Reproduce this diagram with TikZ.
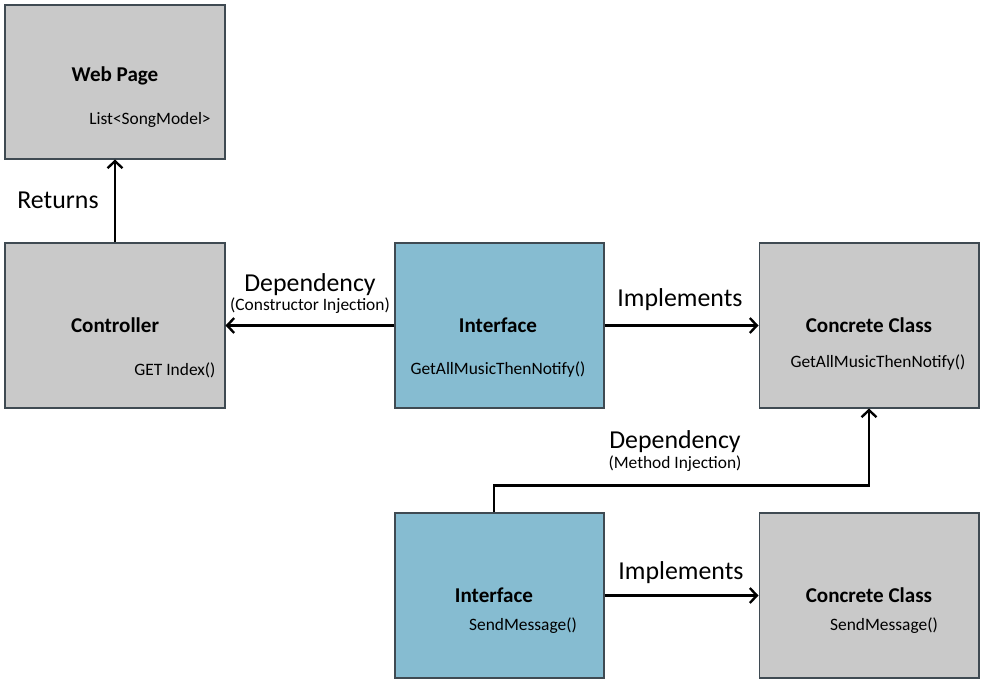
\documentclass[tikz,border=0pt]{standalone}
\usepackage{fontspec}
\setmainfont{Carlito}
\usetikzlibrary{arrows.meta}
\definecolor{boxgray}{HTML}{C9C9C9}
\definecolor{ifaceblue}{HTML}{86BCD1}
\definecolor{edgegray}{HTML}{3F4A52}

\begin{document}
\begin{tikzpicture}[x=0.02cm,y=-0.02cm,
   classbox/.style={draw=edgegray,line width=0.6pt,fill=boxgray,inner sep=0pt,
     minimum width=4.4cm,minimum height=3.3cm},
   ifacebox/.style={classbox,fill=ifaceblue,minimum width=4.18cm},
   title/.style={font=\bfseries\fontsize{12}{14}\selectfont},
   method/.style={font=\fontsize{9.9}{12}\selectfont},
   biglabel/.style={font=\fontsize{14.7}{17}\selectfont},
   smalllabel/.style={font=\fontsize{9.9}{12}\selectfont},
   link/.style={line width=1.35pt,-{Straight Barb[length=4pt,width=8.5pt]}}]
   \useasboundingbox (0,0) rectangle (984,686);
   % boxes
   \node [classbox,minimum height=3.08cm] (web) at (115,82) {};
   \node [classbox] (ctrl) at (115,325.5) {};
   \node [ifacebox] (iface1) at (499.5,325.5) {};
   \node [classbox] (conc1) at (869,325.5) {};
   \node [ifacebox] (iface2) at (499.5,595.5) {};
   \node [classbox] (conc2) at (869,595.5) {};
   % box texts
   \node [title] (webt) at (115,76) {Web Page};
   \node [method] (webm) at (150,120) {List<SongModel>};
   \node [title] (ctrlt) at (115,325) {Controller};
   \node [method] (ctrlm) at (175,370) {GET Index()};
   \node [title] (iface1t) at (498,325) {Interface};
   \node [method] (iface1m) at (498,370) {GetAllMusicThenNotify()};
   \node [title] (conc1t) at (869,325) {Concrete Class};
   \node [method] (conc1m) at (878,363) {GetAllMusicThenNotify()};
   \node [title] (iface2t) at (494,595) {Interface};
   \node [method] (iface2m) at (523,626) {SendMessage()};
   \node [title] (conc2t) at (869,595) {Concrete Class};
   \node [method] (conc2m) at (884,626) {SendMessage()};
   % connectors
   \draw [link] (ctrl.north) -- (web.south);
   \draw [link] (iface1.west) -- (ctrl.east);
   \draw [link] (iface1.east) -- (conc1.west);
   \draw [link] ([xshift=-0.11cm]iface2.north) -- ++(0,-27) -| (conc1.south);
   \draw [link] (iface2.east) -- (conc2.west);
   % labels
   \node [biglabel] (ret) at (58,200) {Returns};
   \node [biglabel] (dep1) at (310,285) {Dependency};
   \node [smalllabel] (dep1s) at (310,306) {(Constructor Injection)};
   \node [biglabel] (impl1) at (680,300) {Implements};
   \node [biglabel] (dep2) at (675,442) {Dependency};
   \node [smalllabel] (dep2s) at (675,464) {(Method Injection)};
   \node [biglabel] (impl2) at (681,573) {Implements};
\end{tikzpicture}
\end{document}
